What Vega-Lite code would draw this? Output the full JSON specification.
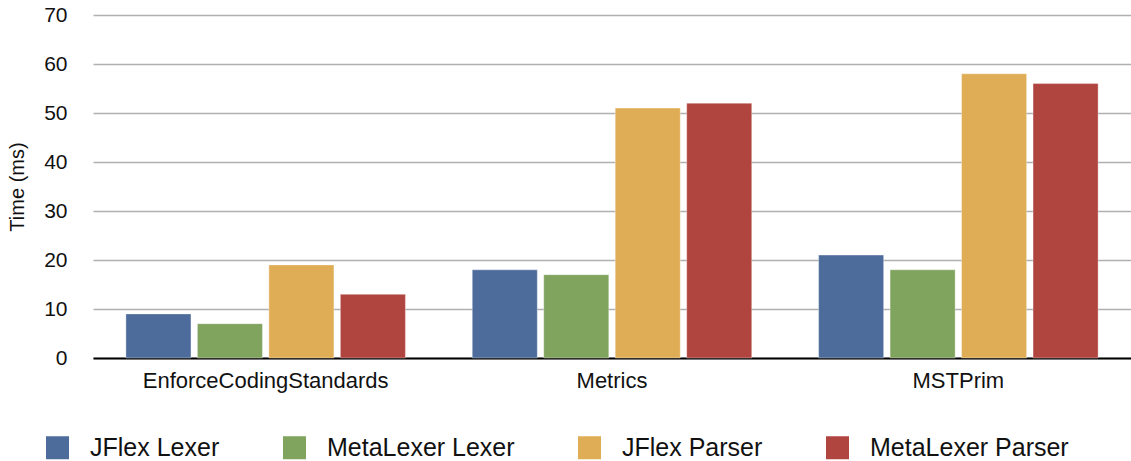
{
  "$schema": "https://vega.github.io/schema/vega-lite/v6.json",
  "autosize": "none",
  "width": 1038,
  "height": 343,
  "padding": {"left": 93, "top": 15, "right": 0, "bottom": 103},
  "background": "white",
  "config": {
    "font": "Liberation Sans",
    "view": {"stroke": null},
    "axis": {
      "labelColor": "#111111",
      "titleColor": "#111111",
      "labelFont": "Liberation Sans",
      "titleFont": "Liberation Sans",
      "labelLimit": 0,
      "titleFontSize": 20,
      "titleFontWeight": "normal"
    },
    "legend": {"labelFont": "Liberation Sans", "labelLimit": 0}
  },
  "data": {
    "values": [
      {"benchmark": "EnforceCodingStandards", "tool": "JFlex Lexer", "time": 9},
      {"benchmark": "EnforceCodingStandards", "tool": "MetaLexer Lexer", "time": 7},
      {"benchmark": "EnforceCodingStandards", "tool": "JFlex Parser", "time": 19},
      {"benchmark": "EnforceCodingStandards", "tool": "MetaLexer Parser", "time": 13},
      {"benchmark": "Metrics", "tool": "JFlex Lexer", "time": 18},
      {"benchmark": "Metrics", "tool": "MetaLexer Lexer", "time": 17},
      {"benchmark": "Metrics", "tool": "JFlex Parser", "time": 51},
      {"benchmark": "Metrics", "tool": "MetaLexer Parser", "time": 52},
      {"benchmark": "MSTPrim", "tool": "JFlex Lexer", "time": 21},
      {"benchmark": "MSTPrim", "tool": "MetaLexer Lexer", "time": 18},
      {"benchmark": "MSTPrim", "tool": "JFlex Parser", "time": 58},
      {"benchmark": "MSTPrim", "tool": "MetaLexer Parser", "time": 56}
    ]
  },
  "mark": {"type": "bar", "stroke": "#ffffff", "strokeOpacity": 0.35, "strokeWidth": 1},
  "encoding": {
    "x": {
      "field": "benchmark",
      "type": "nominal",
      "sort": null,
      "scale": {"paddingInner": 0.193, "paddingOuter": 0.095},
      "axis": {
        "title": null,
        "labelAngle": 0,
        "labelFontSize": 22,
        "labelPadding": 12,
        "labelLimit": 0,
        "ticks": false,
        "domainColor": "#000000",
        "domainWidth": 2
      }
    },
    "xOffset": {
      "field": "tool",
      "type": "nominal",
      "sort": ["JFlex Lexer", "MetaLexer Lexer", "JFlex Parser", "MetaLexer Parser"],
      "scale": {"paddingInner": 0.09, "paddingOuter": 0}
    },
    "y": {
      "field": "time",
      "type": "quantitative",
      "scale": {"domain": [0, 70], "nice": false},
      "axis": {
        "title": "Time (ms)",
        "titleFontSize": 20,
        "titleFontWeight": "normal",
        "titleX": -66,
        "titleY": 171.5,
        "titleBaseline": "bottom",
        "values": [0, 10, 20, 30, 40, 50, 60, 70],
        "labelFontSize": 21,
        "labelPadding": 26,
        "ticks": false,
        "domain": false,
        "grid": true,
        "gridColor": "#b0b0b0",
        "gridWidth": 1.6
      }
    },
    "color": {
      "field": "tool",
      "type": "nominal",
      "sort": ["JFlex Lexer", "MetaLexer Lexer", "JFlex Parser", "MetaLexer Parser"],
      "scale": {
        "domain": ["JFlex Lexer", "MetaLexer Lexer", "JFlex Parser", "MetaLexer Parser"],
        "range": ["#4d6c9b", "#80a35e", "#dfad55", "#b0443f"]
      },
      "legend": {
        "title": null,
        "orient": "none",
        "direction": "horizontal",
        "legendX": -48,
        "legendY": 420,
        "padding": 0,
        "symbolType": "square",
        "symbolSize": 529,
        "symbolStrokeWidth": 0,
        "symbolOpacity": 1,
        "labelFontSize": 25,
        "labelLimit": 0,
        "labelColor": "#111111",
        "labelOffset": 20,
        "columnPadding": 62
      }
    }
  }
}
